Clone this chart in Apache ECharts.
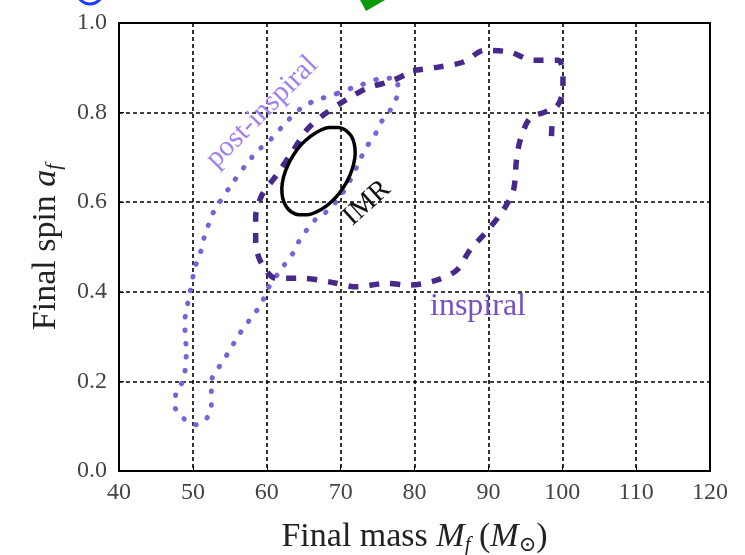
<!DOCTYPE html>
<html>
<head>
<meta charset="utf-8">
<script src="https://cdn.jsdelivr.net/npm/echarts@6/dist/echarts.min.js"></script>
<style>html,body{margin:0;padding:0;background:#fff}#c{width:745px;height:555px}</style>
</head>
<body>
<div id="c"></div>
<script>
// ---- data (final mass M_f, final spin a_f) ----
var xTicks = [40, 50, 60, 70, 80, 90, 100, 110, 120];
var yTicks = [0.0, 0.2, 0.4, 0.6, 0.8, 1.0];

var imrContour = [
  [70.66,0.761],[71.43,0.748],[71.85,0.730],[71.97,0.708],[71.74,0.684],[71.20,0.658],
  [70.38,0.633],[69.31,0.610],[68.09,0.592],[66.80,0.579],[65.52,0.572],[64.34,0.572],
  [63.35,0.578],[62.61,0.591],[62.16,0.609],[62.04,0.631],[62.27,0.656],[62.81,0.681],
  [63.63,0.706],[64.70,0.729],[65.92,0.747],[67.21,0.760],[68.49,0.767],[69.67,0.767],
  [70.66,0.761]
];

var inspiralContour = [
  [79.8,0.894],[83.4,0.902],[86.6,0.913],[89.5,0.939],[92.9,0.935],[96.1,0.917],
  [99.45,0.917],[100.1,0.872],[99.9,0.835],[99.2,0.813],[97.6,0.801],[95.6,0.787],
  [94.3,0.738],[93.8,0.694],[93.4,0.627],[92.0,0.582],[89.75,0.534],[87.5,0.493],
  [85.7,0.448],[83.0,0.426],[79.4,0.415],[76.2,0.419],[72.2,0.411],[68.55,0.422],
  [64.9,0.430],[61.3,0.430],[59.3,0.463],[58.5,0.511],[58.5,0.567],[59.35,0.616],
  [61.3,0.660],[63.6,0.716],[65.4,0.761],[67.6,0.794],[69.9,0.820],[71.3,0.834],
  [73.5,0.854],[77.1,0.872],[79.8,0.894]
];
var inspiralIsland = [[98.6,0.770],[98.5,0.735]];

var postInspiralContour = [
  [69.6,0.843],[72.6,0.861],[76.0,0.877],[77.75,0.872],[77.6,0.835],[76.7,0.805],
  [75.5,0.779],[74.6,0.749],[73.5,0.723],[72.6,0.694],[71.3,0.649],[69.6,0.605],
  [67.9,0.576],[66.75,0.564],[65.4,0.538],[64.3,0.511],[63.4,0.482],[62.2,0.456],
  [60.0,0.403],[59.3,0.374],[58.0,0.344],[56.8,0.318],[55.8,0.292],[54.75,0.263],
  [53.7,0.236],[52.65,0.210],[52.5,0.181],[52.5,0.147],[51.8,0.116],[50.3,0.103],
  [48.7,0.118],[47.6,0.143],[47.7,0.174],[48.7,0.203],[49.1,0.263],[48.9,0.330],
  [49.6,0.397],[50.3,0.455],[51.0,0.486],[51.5,0.520],[52.1,0.549],[52.8,0.578],
  [55.0,0.634],[57.3,0.686],[58.85,0.716],[60.4,0.738],[62.9,0.783],[64.9,0.813],
  [66.75,0.828],[68.1,0.835],[69.6,0.843]
];

// ---- chart ----
var serif = "'Liberation Serif','DejaVu Serif','Times New Roman',serif";
var chart = echarts.init(document.getElementById('c'), null, {renderer:'canvas'});

var titleRich = {
  n:{fontFamily:serif, fontSize:34, color:'#222'},
  i:{fontFamily:serif, fontSize:34, fontStyle:'italic', color:'#222'},
  s:{fontFamily:serif, fontSize:21, fontStyle:'italic', color:'#222', padding:[16,0,0,0]}
};

var option = {
  backgroundColor: '#fff',
  animation: false,
  grid: {left:119, right:35, top:23, bottom:84, containLabel:false, outerBoundsMode:'none',
         show:true, borderColor:'#000', borderWidth:2, backgroundColor:'transparent'},
  xAxis: {
    type:'value', min:xTicks[0], max:xTicks[xTicks.length-1], interval:10,
    axisLine:{show:true, lineStyle:{color:'#000', width:2}},
    axisTick:{show:true, inside:true, length:5, lineStyle:{color:'#000'}},
    axisLabel:{fontFamily:serif, fontSize:24, color:'#444', margin:10},
    splitLine:{show:true, lineStyle:{color:'#000', width:1.6, type:[4,3]}},
    name:'{n|Final mass }{i|M}{s|f}{n| (}{i|M}{s|⊙}{n|)}',
    nameLocation:'middle', nameGap:48,
    nameTextStyle:{rich:titleRich}
  },
  yAxis: {
    type:'value', min:yTicks[0], max:yTicks[yTicks.length-1], interval:0.2,
    axisLine:{show:true, lineStyle:{color:'#000', width:2}},
    axisTick:{show:true, inside:true, length:5, lineStyle:{color:'#000'}},
    axisLabel:{fontFamily:serif, fontSize:24, color:'#444', margin:12,
      formatter:function(v){return v.toFixed(1);}},
    splitLine:{show:true, lineStyle:{color:'#000', width:1.6, type:[4,3]}},
    name:'{n|Final spin }{i|a}{s|f}',
    nameLocation:'middle', nameGap:54, nameRotate:90,
    nameTextStyle:{rich:titleRich}
  },
  series: [
    {type:'line', name:'post-inspiral', data:postInspiralContour, smooth:0.3, showSymbol:false, symbol:'none',
     lineStyle:{color:'#7d60d8', width:5, type:[0.5,13], cap:'round'}, z:3},
    {type:'line', name:'inspiral', data:inspiralContour, smooth:0.3, showSymbol:false, symbol:'none',
     lineStyle:{color:'#47298c', width:5.5, type:[10,11], cap:'butt'}, z:4},
    {type:'line', name:'inspiral-island', data:inspiralIsland, smooth:false, showSymbol:false, symbol:'none',
     lineStyle:{color:'#47298c', width:5.5, type:[10,11], cap:'butt'}, z:4},
    {type:'line', name:'IMR', data:imrContour, smooth:0.4, showSymbol:false, symbol:'none',
     lineStyle:{color:'#000', width:3.5, type:'solid'}, z:5}
  ],
  graphic: [
    {type:'text', x:262, y:112, rotation:Math.PI/4, z:10,
     style:{text:'post-inspiral', font:'29px '+serif, fill:'#a17ff0', textAlign:'center', textVerticalAlign:'middle'}},
    {type:'text', x:367, y:203, rotation:Math.PI*42/180, z:10,
     style:{text:'IMR', font:'28px '+serif, fill:'#111', textAlign:'center', textVerticalAlign:'middle'}},
    {type:'text', x:478, y:307, z:10,
     style:{text:'inspiral', font:'32px '+serif, fill:'#7650c4', textAlign:'center', textVerticalAlign:'middle'}},
    {type:'polygon', z:10, shape:{points:[[360,0],[385,0],[366,11]]}, style:{fill:'#0a9a0a'}},
    {type:'arc', z:10, shape:{cx:90, cy:-9, r:13, startAngle:0, endAngle:Math.PI}, style:{stroke:'#1a3cff', lineWidth:3, fill:'none'}}
  ]
};
chart.setOption(option);
</script>
</body>
</html>
